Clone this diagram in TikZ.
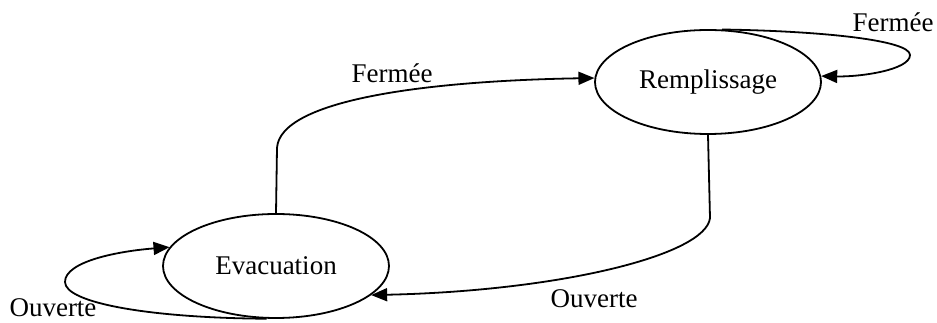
\documentclass[tikz,border=0pt]{standalone}
\usepackage{fontspec}
\setmainfont{Liberation Serif}
\usetikzlibrary{arrows.meta,shapes.geometric}
\begin{document}
\begin{tikzpicture}[x=1pt,y=1pt,
  state/.style={draw,ellipse,line width=1.8pt,minimum width=226pt,minimum height=104pt,inner sep=0pt,font=\fontsize{27}{30}\selectfont},
  lbl/.style={font=\fontsize{27}{30}\selectfont,inner sep=0pt},
  edge/.style={line width=1.8pt,-{Triangle[length=16pt,width=13pt]}}]
\useasboundingbox (0,0) rectangle (937,323);
\node[state] (rem) at (708,241) {Remplissage};
\node[state] (eva) at (276,57) {Evacuation};
\draw[edge] (eva.north) -- (277,175) .. controls (280,222) and (420,242) .. (rem.178);
\draw[edge] (rem.south) -- (710,105) .. controls (706,68) and (560,32) .. (eva.-17);
\draw[edge] (rem.75) .. controls (820,292) and (910,283) .. (910,268) .. controls (910,253) and (860,246) .. (rem.3);
\draw[edge] (eva.-100) .. controls (150,5) and (65,20) .. (65,41) .. controls (65,62) and (120,72) .. (eva.170);
\node[lbl] (l1) at (392,250) {Fermée};
\node[lbl] (l2) at (594,24) {Ouverte};
\node[lbl] (l3) at (893,301) {Fermée};
\node[lbl] (l4) at (53,15) {Ouverte};
\end{tikzpicture}
\end{document}
